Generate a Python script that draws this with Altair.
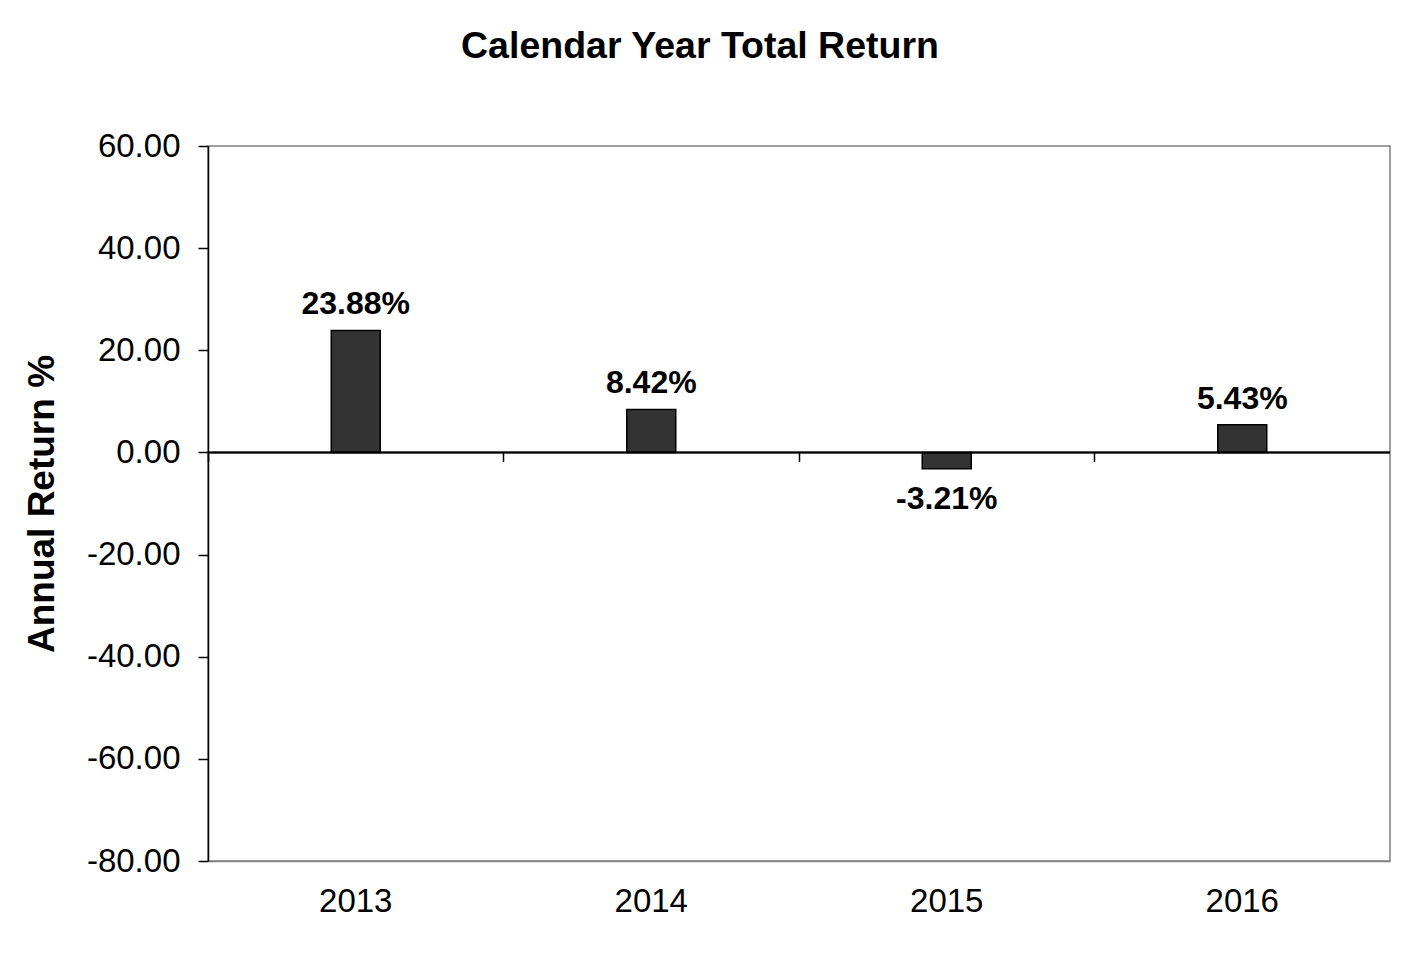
import altair as alt
import pandas as pd

years = ["2013", "2014", "2015", "2016"]
returns = [23.88, 8.42, -3.21, 5.43]
y_ticks = [-80, -60, -40, -20, 0, 20, 40, 60]
y_domain = [-80, 60]

df = pd.DataFrame({"year": years, "ret": returns})

W, H = 1182, 715
FONT = "Liberation Sans"
MINUS = "\u2212"

xscale = alt.Scale(domain=years, paddingInner=0, paddingOuter=0)
yscale = alt.Scale(domain=y_domain, nice=False, zero=False)

base = alt.Chart(df)

bars = base.mark_bar(color="#333333", stroke="black", strokeWidth=1.5, size=49).encode(
    x=alt.X("year:N", scale=xscale, sort=years,
            axis=alt.Axis(title=None, labelAngle=0, ticks=False, labelPadding=24,
                          labelFontSize=33, labelFont=FONT, labelColor="black",
                          domainColor="#808080", domainWidth=1.5)),
    y=alt.Y("ret:Q", scale=yscale,
            axis=alt.Axis(values=y_ticks,
                          labelExpr=f"replace(format(datum.value, '.2f'), '{MINUS}', '-')",
                          title="Annual Return %", titleFont=FONT, titleFontSize=37,
                          titleFontWeight="bold", titleColor="black", titlePadding=25,
                          labelFont=FONT, labelFontSize=33, labelColor="black", labelPadding=18,
                          tickSize=10, tickColor="black", tickWidth=1.5,
                          domainColor="black", domainWidth=1.5, grid=False)),
)

zero = base.mark_rule(color="black", strokeWidth=1.5).encode(y=alt.datum(0))

lab = base.transform_calculate(
    label=f"replace(format(datum.ret, '.2f'), '{MINUS}', '-') + '%'"
)
enc = dict(
    x=alt.X("year:N", scale=xscale, sort=years),
    y=alt.Y("ret:Q", scale=yscale),
    text="label:N",
)
pos = lab.transform_filter("datum.ret >= 0").mark_text(
    font=FONT, fontSize=32, fontWeight="bold", baseline="alphabetic", dy=-16, color="black"
).encode(**enc)
neg = lab.transform_filter("datum.ret < 0").mark_text(
    font=FONT, fontSize=32, fontWeight="bold", baseline="alphabetic", dy=40, color="black"
).encode(**enc)

inner = alt.layer(bars, zero, pos, neg)

zero_offset = -H * (0 - y_domain[0]) / (y_domain[1] - y_domain[0])
ticks = base.mark_bar(opacity=0).encode(
    x=alt.X("year:N", scale=xscale, sort=years,
            axis=alt.Axis(orient="bottom", offset=zero_offset, labels=False, domain=False,
                          ticks=True, tickSize=9, tickColor="black", tickWidth=1.5,
                          bandPosition=0, title=None, grid=False)),
    y=alt.Y("ret:Q", scale=yscale),
)

chart = alt.layer(inner, ticks).resolve_scale(x="independent").properties(
    width=W, height=H,
    autosize=alt.AutoSizeParams(type="none"),
    padding={"left": 200, "top": 138, "right": 6, "bottom": 80},
    title=alt.TitleParams("Calendar Year Total Return", font=FONT, fontSize=37.5,
                          fontWeight="bold", color="black", anchor="middle",
                          dx=-99, offset=65),
).configure_view(stroke="#808080", strokeWidth=1.5).configure_axis(grid=False)

chart.save("out.html", embed_options={"renderer": "svg", "actions": False})
